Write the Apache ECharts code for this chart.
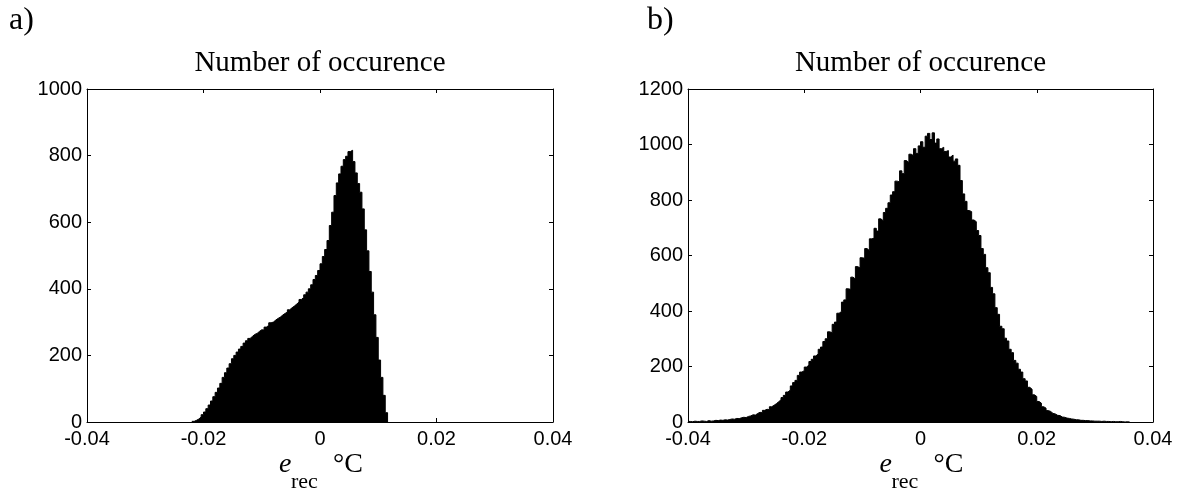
<!DOCTYPE html>
<html>
<head>
<meta charset="utf-8">
<script src="https://cdn.jsdelivr.net/npm/echarts@6/dist/echarts.min.js"></script>
<style>html,body{margin:0;padding:0;background:#fff;}#c{width:1181px;height:495px;}</style>
</head>
<body>
<div id="c"></div>
<script>
// ---- data ----
const panelLabels = ['a)', 'b)'];
const panelTitle = 'Number of occurence';
const xTickLabels = ['-0.04', '-0.02', '0', '0.02', '0.04'];
const yTicksA = [0, 200, 400, 600, 800, 1000];
const yTicksB = [0, 200, 400, 600, 800, 1000, 1200];

// histogram a): bins of width 0.0004 starting at -0.0220
const binStartA = -0.0220;
const binWidthA = 0.0004;
const countsA = [
  2, 5, 9, 15, 22, 30, 40, 51, 63, 76,
  89, 102, 116, 134, 148, 162, 175, 190, 200, 210,
  219, 227, 237, 244, 251, 257, 263, 266, 272, 277,
  276, 285, 290, 298, 300, 306, 311, 315, 321, 326,
  330, 337, 343, 348, 354, 360, 368, 374, 382, 390,
  400, 412, 428, 440, 455, 475, 497, 518, 545, 590,
  630, 680, 718, 745, 768, 788, 798, 812, 816, 782,
  748, 716, 690, 640, 577, 514, 452, 390, 322, 254,
  186, 134, 80, 28
];

// histogram b): bins of width 0.0004 starting at -0.0400
const binStartB = -0.0400;
const binWidthB = 0.0004;
const countsB = [
  2, 1, 3, 2, 2, 4, 3, 2, 5, 3, 4, 6, 5, 7, 6,
  8, 7, 9, 11, 10, 13, 12, 15, 17, 16,
  20, 22, 26, 25, 31, 35, 33, 42, 46, 44,
  55, 60, 66, 73, 80, 88, 96, 108, 115, 130,
  142, 150, 168, 180, 185, 198, 205, 218, 226, 238,
  245, 262, 270, 290, 300, 325, 322, 352, 360, 392,
  398, 432, 440, 480, 478, 522, 515, 560, 555, 592,
  590, 625, 618, 660, 662, 698, 688, 732, 725, 755,
  770, 790, 818, 830, 868, 865, 905, 895, 942, 935,
  965, 960, 985, 968, 995, 1010, 990, 1030, 1040, 1018,
  1042, 1005, 1020, 985, 990, 975, 978, 955, 962, 940,
  948, 925, 870, 822, 795, 762, 758, 728, 722, 690,
  672, 625, 604, 556, 538, 485, 462, 412, 388, 345,
  336, 302, 292, 262, 250, 222, 212, 190, 180, 156,
  148, 125, 118, 98, 92, 74, 68, 55, 50, 41,
  38, 31, 29, 24, 23, 18, 17, 14, 13, 11,
  10, 8, 8, 6, 6, 5, 5, 4, 4, 3,
  3, 3, 2, 3, 2, 2, 1, 2, 1, 1,
  2, 1, 0, 1, 0
];

// ---- layout ----
const W = 1181, H = 495;
const grids = [
  { left: 87, right: W - 553, top: 89, bottom: H - 422 },
  { left: 688, right: W - 1153, top: 89, bottom: H - 422 }
];

function histPoints(start, width, counts) {
  const pts = counts.map((c, i) => [start + width * i, c]);
  pts.push([start + width * counts.length, 0]);
  return pts;
}

const serif = '"Liberation Serif", "Times New Roman", serif';
const sans = '"Liberation Sans", Arial, sans-serif';

function xAxes(gi) {
  const base = {
    gridIndex: gi, type: 'value', min: -0.04, max: 0.04, interval: 0.02,
    axisLine: { show: true, onZero: false, lineStyle: { color: '#000', width: 1 } },
    axisTick: { show: true, inside: true, length: 4, lineStyle: { color: '#000' } },
    splitLine: { show: false }
  };
  return [
    Object.assign({}, base, {
      position: 'bottom',
      axisLabel: { show: true, margin: 7, color: '#000', fontSize: 20, fontFamily: sans,
        formatter: (v, idx) => xTickLabels[idx] }
    }),
    Object.assign({}, base, { position: 'top', axisLabel: { show: false } })
  ];
}
function yAxes(gi, ticks) {
  const base = {
    gridIndex: gi, type: 'value', min: ticks[0], max: ticks[ticks.length - 1], interval: ticks[1] - ticks[0],
    axisLine: { show: true, onZero: false, lineStyle: { color: '#000', width: 1 } },
    axisTick: { show: true, inside: true, length: 4, lineStyle: { color: '#000' } },
    splitLine: { show: false }
  };
  return [
    Object.assign({}, base, {
      position: 'left',
      axisLabel: { show: true, margin: 5, color: '#000', fontSize: 20, fontFamily: sans,
        formatter: (v, idx) => String(ticks[idx]) }
    }),
    Object.assign({}, base, { position: 'right', axisLabel: { show: false } })
  ];
}

function histSeries(xi, yi, start, width, counts) {
  return {
    type: 'line', xAxisIndex: xi, yAxisIndex: yi,
    step: 'end', showSymbol: false, symbol: 'none', animation: false,
    data: histPoints(start, width, counts),
    lineStyle: { color: '#000', width: 1 },
    areaStyle: { color: '#000', opacity: 1 }
  };
}

function txt(text, x, y, font, align) {
  return {
    type: 'text', x: x, y: y, silent: true,
    style: { text: text, font: font, fill: '#000',
      align: align, verticalAlign: 'middle', textAlign: align, textVerticalAlign: 'middle' }
  };
}

const graphics = [];
grids.forEach((g, gi) => {
  const cx = (g.left + (W - g.right)) / 2;
  graphics.push(txt(panelTitle, cx, 63, 'normal 29px ' + serif, 'center'));
  graphics.push(txt('e', cx - 41, 464.5, 'italic 28px ' + serif, 'left'));
  graphics.push(txt('rec', cx - 29, 482, 'normal 22px ' + serif, 'left'));
  graphics.push(txt('°C', cx + 13, 464.5, 'normal 28px ' + serif, 'left'));
});
graphics.push(txt(panelLabels[0], 9, 21, 'normal 32px ' + serif, 'left'));
graphics.push(txt(panelLabels[1], 647, 21, 'normal 32px ' + serif, 'left'));

const chart = echarts.init(document.getElementById('c'), null, { renderer: 'canvas' });
chart.setOption({
  animation: false,
  backgroundColor: '#fff',
  grid: grids.map(g => Object.assign({ containLabel: false }, g)),
  xAxis: [...xAxes(0), ...xAxes(1)],
  yAxis: [...yAxes(0, yTicksA), ...yAxes(1, yTicksB)],
  series: [
    histSeries(0, 0, binStartA, binWidthA, countsA),
    histSeries(2, 2, binStartB, binWidthB, countsB)
  ],
  graphic: graphics
});
</script>
</body>
</html>
